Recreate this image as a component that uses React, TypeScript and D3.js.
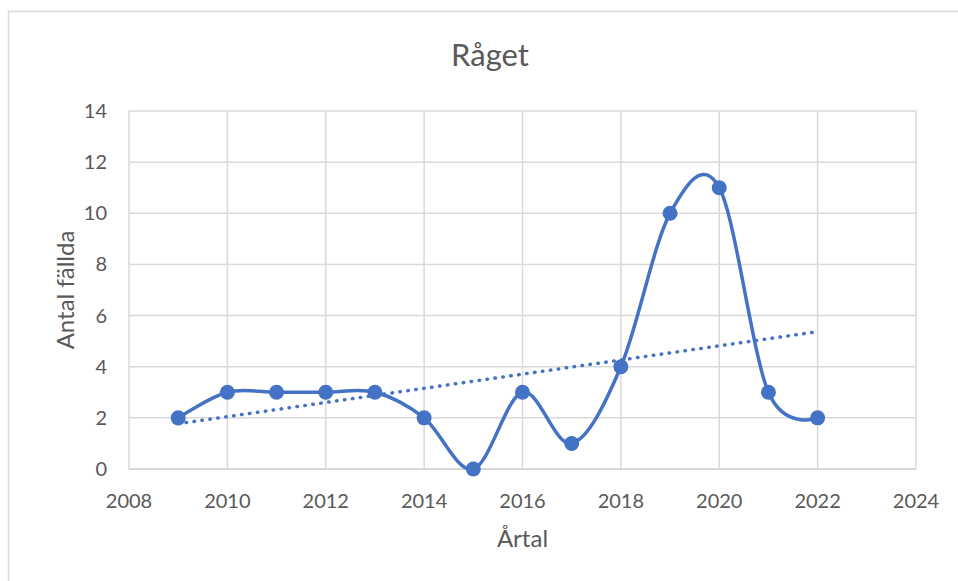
import React from 'react';
import * as d3 from 'd3';

// data
const years = [2009, 2010, 2011, 2012, 2013, 2014, 2015, 2016, 2017, 2018, 2019, 2020, 2021, 2022];
const felled = [2, 3, 3, 3, 3, 2, 0, 3, 1, 4, 10, 11, 3, 2];
const xTicks = [2008, 2010, 2012, 2014, 2016, 2018, 2020, 2022, 2024];
const yTicks = [0, 2, 4, 6, 8, 10, 12, 14];

const title = 'Råget';
const xTitle = 'Årtal';
const yTitle = 'Antal fällda';

const W = 958;
const H = 581;
const plot = { left: 129, right: 916, top: 111, bottom: 469 };
const blue = '#4472C4';
const grid = '#d9d9d9';
const textCol = '#595959';
const font = 'Lato, "Open Sans", sans-serif';

// least squares line, same as Excel's linear trendline
function linearFit(xs: number[], ys: number[]) {
    const n = xs.length;
    const mx = d3.mean(xs) as number;
    const my = d3.mean(ys) as number;
    let sxy = 0, sxx = 0;
    for (let i = 0; i < n; i++) {
        sxy += (xs[i] - mx) * (ys[i] - my);
        sxx += (xs[i] - mx) * (xs[i] - mx);
    }
    const slope = sxy / sxx;
    return (x: number) => my + slope * (x - mx);
}

export default function App() {
    const x = d3.scaleLinear().domain([2008, 2024]).range([plot.left, plot.right]);
    const y = d3.scaleLinear().domain([0, 14]).range([plot.bottom, plot.top]);

    const points = years.map((yr, i) => [yr, felled[i]] as [number, number]);
    const line = d3.line<[number, number]>()
        .x(d => x(d[0]))
        .y(d => y(d[1]))
        .curve(d3.curveCatmullRom.alpha(0));

    const fit = linearFit(years, felled);
    const x0 = years[0];
    const x1 = years[years.length - 1];

    return (
        <svg width={W} height={H} style={{ position: 'absolute', left: 0, top: 0, background: '#fff' }}>
            <rect x={8.5} y={11.5} width={W + 20} height={H + 20} fill="#fff" stroke={grid} strokeWidth={1.5} />

            <text x={490} y={66} textAnchor="middle" fontFamily={font} fontSize={31} fill={textCol}>{title}</text>

            {/* gridlines */}
            {yTicks.map(t => (
                <line key={'gy' + t} x1={plot.left} x2={plot.right} y1={y(t)} y2={y(t)}
                      stroke={t === 0 ? '#c8c8c8' : grid} strokeWidth={1.5} />
            ))}
            {xTicks.map(t => (
                <line key={'gx' + t} x1={x(t)} x2={x(t)} y1={plot.top} y2={plot.bottom}
                      stroke={grid} strokeWidth={1.5} />
            ))}

            {/* tick labels */}
            {yTicks.map(t => (
                <text key={'ly' + t} x={107} y={y(t)} dy="0.35em" textAnchor="end"
                      fontFamily={font} fontSize={20} fill={textCol}>{t}</text>
            ))}
            {xTicks.map(t => (
                <text key={'lx' + t} x={x(t)} y={508} textAnchor="middle"
                      fontFamily={font} fontSize={20} fill={textCol}>{t}</text>
            ))}

            {/* axis titles */}
            <text x={(plot.left + plot.right) / 2} y={547} textAnchor="middle"
                  fontFamily={font} fontSize={24} fill={textCol}>{xTitle}</text>
            <text transform={`translate(74,${(plot.top + plot.bottom) / 2}) rotate(-90)`} textAnchor="middle"
                  fontFamily={font} fontSize={24} fill={textCol}>{yTitle}</text>

            {/* trendline */}
            <line x1={x(x0)} y1={y(fit(x0))} x2={x(x1)} y2={y(fit(x1))}
                  stroke={blue} strokeWidth={3.5} strokeDasharray="0.5 7.5" strokeLinecap="round" />

            {/* series */}
            <path d={line(points) || ''} fill="none" stroke={blue} strokeWidth={3.5} strokeLinejoin="round" />
            {points.map((p, i) => (
                <circle key={i} cx={x(p[0])} cy={y(p[1])} r={7.5} fill={blue} />
            ))}
        </svg>
    );
}
